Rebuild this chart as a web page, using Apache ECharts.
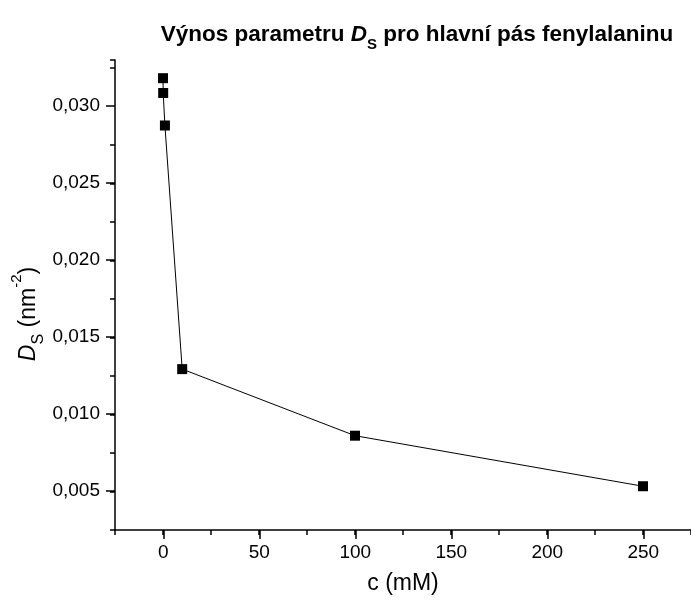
<!DOCTYPE html>
<html>
<head>
<meta charset="utf-8">
<script src="https://cdn.jsdelivr.net/npm/echarts@6/dist/echarts.min.js"></script>
<style>
html,body{margin:0;padding:0;background:#fff;}
#chart{width:691px;height:601px;}
</style>
</head>
<body>
<div id="chart"></div>
<script>
// Data
var concentrations = [0.01, 0.1, 1, 10, 100, 250];
var dsValues = [0.03182, 0.03086, 0.02875, 0.01294, 0.00862, 0.00534];
var xTickLabels = [0, 50, 100, 150, 200, 250];
var yTickLabels = ['0,005', '0,010', '0,015', '0,020', '0,025', '0,030'];

var FONT = '"Liberation Sans", Arial, sans-serif';
var chart = echarts.init(document.getElementById('chart'), null, {renderer: 'canvas'});

var seriesData = concentrations.map(function (c, i) { return [c, dsValues[i]]; });

var option = {
  backgroundColor: '#fff',
  animation: false,
  grid: [
    {left: 115, top: 60, width: 576, height: 470},
    {left: 163.3, top: 60, width: 480, height: 470},
    {left: 115, top: 106, width: 576, height: 385}
  ],
  xAxis: [
    {
      gridIndex: 0, type: 'value', min: -25, max: 275, interval: 25,
      axisLine: {show: true, onZero: false, lineStyle: {color: '#000', width: 1.5}},
      axisTick: {show: true, inside: false, length: 5, lineStyle: {color: '#000', width: 1.5}},
      axisLabel: {show: false},
      splitLine: {show: false}
    },
    {
      gridIndex: 1, type: 'value', min: 0, max: 250, interval: 50,
      axisLine: {show: false, onZero: false},
      axisTick: {show: true, inside: false, length: 9, lineStyle: {color: '#000', width: 1.5}},
      axisLabel: {
        show: true, margin: 13, color: '#000', fontSize: 19, fontFamily: FONT,
        formatter: function (v) { return xTickLabels.indexOf(v) >= 0 ? String(v) : ''; }
      },
      splitLine: {show: false}
    },
    {gridIndex: 2, type: 'value', show: false, min: 0, max: 1}
  ],
  yAxis: [
    {
      gridIndex: 0, type: 'value', min: 0.0025, max: 0.033, interval: 0.0025,
      axisLine: {show: true, onZero: false, lineStyle: {color: '#000', width: 1.5}},
      axisTick: {show: true, inside: false, length: 5, lineStyle: {color: '#000', width: 1.5}},
      axisLabel: {show: false},
      splitLine: {show: false}
    },
    {gridIndex: 1, type: 'value', show: false, min: 0, max: 1},
    {
      gridIndex: 2, type: 'value', min: 0.005, max: 0.030, interval: 0.005,
      axisLine: {show: false, onZero: false},
      axisTick: {show: true, inside: false, length: 9, lineStyle: {color: '#000', width: 1.5}},
      axisLabel: {
        show: true, margin: 15, color: '#000', fontSize: 19, fontFamily: FONT,
        formatter: function (v) {
          var idx = Math.round(v / 0.005) - 1;
          return yTickLabels[idx] || '';
        }
      },
      splitLine: {show: false}
    }
  ],
  series: [{
    type: 'line',
    xAxisIndex: 0, yAxisIndex: 0,
    data: seriesData,
    symbol: 'rect',
    symbolSize: 10,
    showAllSymbol: true,
    itemStyle: {color: '#000'},
    lineStyle: {color: '#000', width: 1},
    z: 5
  }],
  graphic: [
    {
      type: 'text', x: 417, y: 33,
      style: {
        text: '{b|Výnos parametru }{bi|D}{sub|S}{b| pro hlavní pás fenylalaninu}',
        align: 'center', verticalAlign: 'middle',
        rich: {
          b: {fontFamily: FONT, fontWeight: 'bold', fontSize: 22.5, fill: '#000', verticalAlign: 'bottom', lineHeight: 26},
          bi: {fontFamily: FONT, fontWeight: 'bold', fontStyle: 'italic', fontSize: 22.5, fill: '#000', verticalAlign: 'bottom', lineHeight: 26},
          sub: {fontFamily: FONT, fontWeight: 'bold', fontSize: 15, fill: '#000', verticalAlign: 'bottom', lineHeight: 18, padding: [0, 0, -6, 0]}
        }
      }
    },
    {
      type: 'text', x: 403, y: 584,
      style: {
        text: 'c (mM)', align: 'center', verticalAlign: 'middle',
        fontFamily: FONT, fontSize: 23, fill: '#000'
      }
    },
    {
      type: 'text', x: 27, y: 314, rotation: Math.PI / 2,
      style: {
        text: '{i|D}{sub|S}{n| (nm}{sup|-2}{n|)}',
        align: 'center', verticalAlign: 'middle',
        rich: {
          i: {fontFamily: FONT, fontStyle: 'italic', fontSize: 23, fill: '#000', verticalAlign: 'bottom', lineHeight: 27},
          n: {fontFamily: FONT, fontSize: 23, fill: '#000', verticalAlign: 'bottom', lineHeight: 27},
          sub: {fontFamily: FONT, fontSize: 16, fill: '#000', verticalAlign: 'bottom', lineHeight: 18, padding: [0, 0, -6, 0]},
          sup: {fontFamily: FONT, fontSize: 15, fill: '#000', verticalAlign: 'top', lineHeight: 18, padding: [-4, 0, 0, 0]}
        }
      }
    }
  ]
};
chart.setOption(option);
</script>
</body>
</html>
